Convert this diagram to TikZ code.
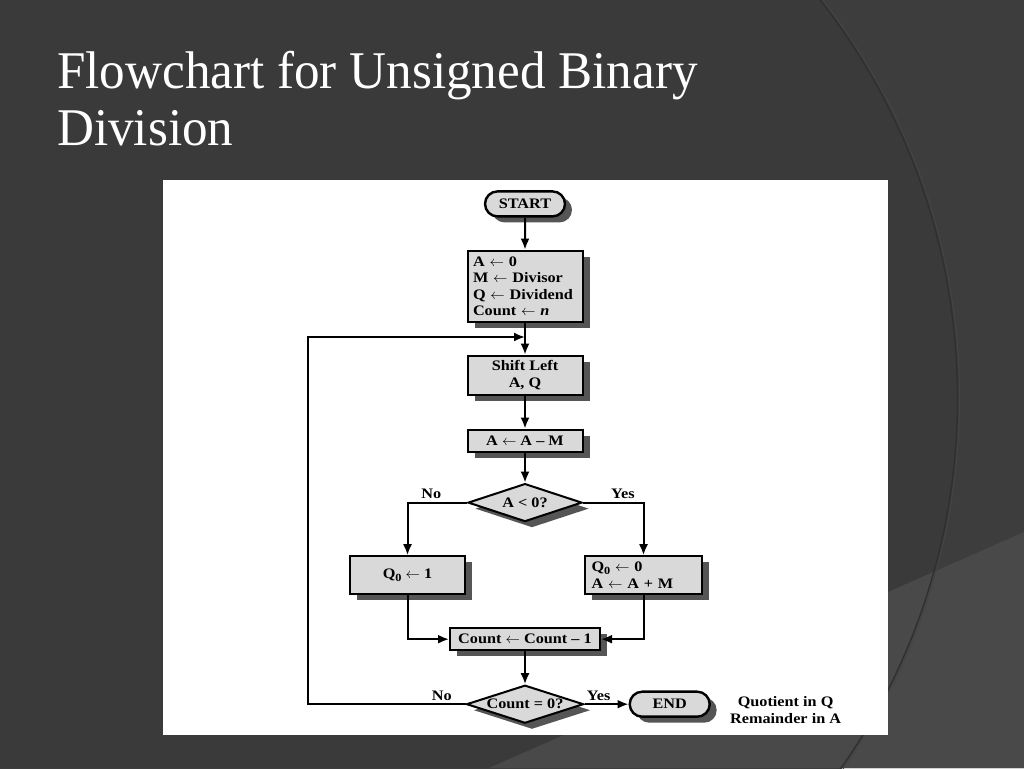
\documentclass[tikz,border=0pt]{standalone}
\usepackage{fontspec}
\setmainfont{Liberation Serif}
\newfontfamily\chartfont[FakeStretch=1.12, Ligatures=TeX]{Liberation Serif}
\newfontfamily\titlefont[FakeStretch=0.965, Ligatures=TeX]{Liberation Serif}
\usepackage{tikz}
\usetikzlibrary{shapes,arrows.meta,shadows,positioning,calc}

\definecolor{slidebg}{HTML}{3A3A3A}
\definecolor{slideouter}{HTML}{3D3D3D}
\definecolor{slidelight}{HTML}{494949}
\definecolor{arcdark}{HTML}{303030}
\definecolor{arclight}{HTML}{444444}
\definecolor{boxgray}{HTML}{D9D9D9}
\definecolor{shadowgray}{HTML}{555555}

\newcommand{\subzero}{\raisebox{-0.35ex}{\fontsize{11}{11}\selectfont 0}}

\begin{document}
\begin{tikzpicture}[x=1pt, y=-1pt, auto,
      box_shadow/.style ={drop shadow={shadow xshift=7pt, shadow yshift=-6pt,
        fill=shadowgray, opacity=1}},
      block_center/.style ={rectangle, draw=black, line width=2pt, fill=boxgray,
        align=center, minimum width=115pt, inner sep=2pt, box_shadow,
        font=\chartfont\bfseries\fontsize{14.5}{16.5}\selectfont},
      block_left/.style ={block_center, align=left, text width=104pt, inner xsep=5.5pt},
      block_term/.style ={rounded rectangle, draw=black, line width=2.4pt, fill=boxgray,
        minimum width=84pt, minimum height=25pt, inner sep=2pt, box_shadow,
        font=\chartfont\bfseries\fontsize{14.5}{16.5}\selectfont},
      decision/.style ={diamond, aspect=3, draw=black, line width=2pt, fill=boxgray,
        inner sep=0pt, minimum width=114pt, minimum height=38pt, box_shadow,
        font=\chartfont\bfseries\fontsize{14.5}{16.5}\selectfont},
      block_noborder/.style ={rectangle, draw=none, fill=none, inner sep=3pt,
        font=\chartfont\bfseries\fontsize{14.5}{16.5}\selectfont},
      title_text/.style ={text=white, inner sep=0pt, font=\titlefont\fontsize{53}{60}\selectfont},
      line/.style ={draw, line width=2pt, -{Latex[length=11pt, width=9pt]}, shorten >=0pt}]
    %
    % 0. slide background, title and white panel
    \useasboundingbox (0,0) rectangle (1024,768);
    \fill [slidebg] (0,0) rectangle (1024,768);
    \begin{scope}
      \clip (0,0) rectangle (1024,768);
      \fill [slideouter, even odd rule] (0,0) rectangle (1024,768)
        (311.5,398.2) circle [radius=646];
      \fill [slidelight] (1024,532) -- (489,768) -- (1024,768) -- cycle;
      \draw [arclight, line width=1pt] (311.5,398.2) circle [radius=648];
      \draw [arcdark, line width=1.5pt] (311.5,398.2) circle [radius=646];
    \end{scope}
    \node [title_text, anchor=base west] (title1) at (57,88) {Flowchart for Unsigned Binary};
    \node [title_text, anchor=base west] (title2) at (57,145) {Division};
    \fill [white] (163,180) rectangle (888,735);
    %
    % 1. outlining the flowchart using the matrix
    \matrix (chart) [column sep=-17pt, row sep=32pt, inner sep=0pt, anchor=north] at (526,190) {
      % start - row 1
      & \node [block_term] (start) {START}; & \\
      % init - row 2
      & \node [block_left, minimum height=71pt] (init)
          {A $\leftarrow$ 0\\M $\leftarrow$ Divisor\\Q $\leftarrow$ Dividend\\Count $\leftarrow$ \textit{n}}; & \\
      % shift - row 3
      & \node [block_center, minimum height=39pt] (shift) {Shift Left\\A, Q}; & \\[1pt]
      % subtract - row 4
      & \node [block_center, minimum height=22pt] (sub) {A $\leftarrow$ A -- M}; & \\[-2pt]
      % first test - row 5
      & \node [decision] (test_a) {A < 0?}; & \\[1pt]
      % branches - row 6
      \node [block_center, minimum height=38pt] (set_one) {Q\subzero{} $\leftarrow$ 1};
      &
      & \node [block_left, minimum width=117pt, text width=104pt, inner xsep=6.5pt,
          minimum height=38pt] (set_zero) {Q\subzero{} $\leftarrow$ 0\\A $\leftarrow$ A + M}; \\
      % count - row 7
      & \node [block_center, minimum width=150pt, minimum height=22pt] (dec)
          {Count $\leftarrow$ Count -- 1}; & \\[1pt]
      % second test - row 8
      & \node [decision, minimum width=117pt] (test_c) {Count = 0?}; & \\
    };% end matrix
    %
    \node [block_term, right=44pt of test_c] (stop) {END};
    \node [block_noborder, align=center, right=16pt of stop, yshift=-6pt] (result)
      {Quotient in Q\\Remainder in A};
    \coordinate (join) at ($(init.south)!0.45!(shift.north)$);
    %
    % 2. connecting nodes with paths
    \begin{scope}[every path/.style=line]
      \path (start) -- (init);
      \path (init) -- (shift);
      \path (shift) -- (sub);
      \path (sub) -- (test_a);
      \path (test_a.west) -| node [block_noborder, above, pos=0.3] {No} (set_one);
      \path (test_a.east) -| node [block_noborder, above, pos=0.33] {Yes} (set_zero);
      \path (set_one) |- (dec);
      \path (set_zero) |- (dec);
      \path (dec) -- (test_c);
      \path (test_c) -- node [block_noborder, above, pos=0.32] {Yes} (stop);
      \path (test_c.west) -- node [block_noborder, above, pos=0.15] {No} ++(-158,0) |- (join);
    \end{scope}
\end{tikzpicture}
\end{document}
